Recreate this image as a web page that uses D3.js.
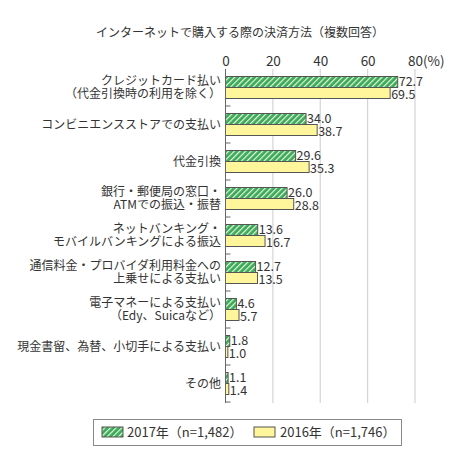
<!DOCTYPE html>
<html><head><meta charset="utf-8">
<script src="https://cdn.jsdelivr.net/npm/d3@7"></script>
<style>body{margin:0;background:#fff}svg{display:block}text{font-family:"Noto Sans CJK JP","Noto Sans",sans-serif;fill:#333}</style>
</head><body><svg id="c" width="453" height="453"></svg>
<script>
const title = "インターネットで購入する際の決済方法（複数回答）";
const categories = [
  ["クレジットカード払い","（代金引換時の利用を除く）"],
  ["コンビニエンスストアでの支払い"],
  ["代金引換"],
  ["銀行・郵便局の窓口・","ATMでの振込・振替"],
  ["ネットバンキング・","モバイルバンキングによる振込"],
  ["通信料金・プロバイダ利用料金への","上乗せによる支払い"],
  ["電子マネーによる支払い","（Edy、Suicaなど）"],
  ["現金書留、為替、小切手による支払い"],
  ["その他"]
];
const values2017 = [72.7, 34.0, 29.6, 26.0, 13.6, 12.7, 4.6, 1.8, 1.1];
const values2016 = [69.5, 38.7, 35.3, 28.8, 16.7, 13.5, 5.7, 1.0, 1.4];
const tickValues = [0, 20, 40, 60, 80];
const seriesNames = ["2017年（n=1,482）", "2016年（n=1,746）"];

const svg = d3.select("#c");
const defs = svg.append("defs");
const pat = defs.append("pattern").attr("id","hatch").attr("patternUnits","userSpaceOnUse")
  .attr("width",4).attr("height",4).attr("patternTransform","rotate(45)");
pat.append("rect").attr("width",4).attr("height",4).attr("fill","#3aaa56");
pat.append("line").attr("x1",0).attr("y1",0).attr("x2",0).attr("y2",4).attr("stroke","#e8f6e4").attr("stroke-width",2.4);

const x = d3.scaleLinear().domain([0,80]).range([225.5,415]);
const y = d3.scaleBand().domain(d3.range(categories.length)).range([69,402]).padding(0);
const barH = 11;

svg.append("text").attr("x",240).attr("y",37).attr("text-anchor","middle").attr("font-size",12).text(title);

// grid
svg.append("g").selectAll("line").data(tickValues.slice(1)).join("line")
  .attr("x1",d=>x(d)).attr("x2",d=>x(d)).attr("y1",69).attr("y2",403)
  .attr("stroke","#d4d4d4").attr("stroke-width",1.2);

// top axis labels
const ax = svg.append("g").attr("transform","translate(0,66)")
  .call(d3.axisTop(x).tickValues(tickValues).tickSize(0).tickPadding(0));
ax.select(".domain").remove();
ax.selectAll("text").attr("font-size",13.5).style("font-family",'"Noto Sans CJK JP",sans-serif').attr("fill","#333");
svg.append("text").attr("x",x(80)+8).attr("y",66).attr("font-size",13.5).text("(%)");

// bars
const g = svg.append("g");
categories.forEach((c,i)=>{
  const cy = y(i) + y.bandwidth()/2;
  g.append("rect").attr("x",x(0)).attr("y",cy-barH).attr("width",x(values2017[i])-x(0)).attr("height",barH)
    .attr("fill","url(#hatch)").attr("stroke","#555").attr("stroke-width",1);
  g.append("rect").attr("x",x(0)).attr("y",cy).attr("width",x(values2016[i])-x(0)).attr("height",barH)
    .attr("fill","#fff59a").attr("stroke","#555").attr("stroke-width",1);
  g.append("text").attr("x",x(values2017[i])+1).attr("y",cy-barH/2-0.5).attr("dy","0.36em").attr("font-size",12.5)
    .text(values2017[i].toFixed(1));
  g.append("text").attr("x",x(values2016[i])+1).attr("y",cy+barH/2+1).attr("dy","0.36em").attr("font-size",12.5)
    .text(values2016[i].toFixed(1));
  const lines = c;
  lines.forEach((t,k)=>{
    g.append("text").attr("x",221).attr("y",cy + (k-(lines.length-1)/2)*13).attr("dy","0.36em")
      .attr("text-anchor","end").attr("font-size",12).text(t);
  });
});

// left axis line and ticks
svg.append("line").attr("x1",x(0)).attr("x2",x(0)).attr("y1",69).attr("y2",403).attr("stroke","#666").attr("stroke-width",1);
svg.append("g").selectAll("line").data(d3.range(1,categories.length+1)).join("line")
  .attr("x1",x(0)).attr("x2",x(0)+5).attr("y1",d=>y(0)+d*y.bandwidth()).attr("y2",d=>y(0)+d*y.bandwidth())
  .attr("stroke","#666");

// legend
const lg = svg.append("g");
lg.append("rect").attr("x",93.5).attr("y",419.5).attr("width",308).attr("height",26).attr("fill","#fff").attr("stroke","#888");
lg.append("rect").attr("x",102).attr("y",427).attr("width",21).attr("height",10).attr("fill","url(#hatch)").attr("stroke","#555");
lg.append("text").attr("x",127).attr("y",432).attr("dy","0.36em").attr("font-size",13).text(seriesNames[0]);
lg.append("rect").attr("x",254).attr("y",427).attr("width",21).attr("height",10).attr("fill","#fff59a").attr("stroke","#555");
lg.append("text").attr("x",280).attr("y",432).attr("dy","0.36em").attr("font-size",13).text(seriesNames[1]);
</script></body></html>
